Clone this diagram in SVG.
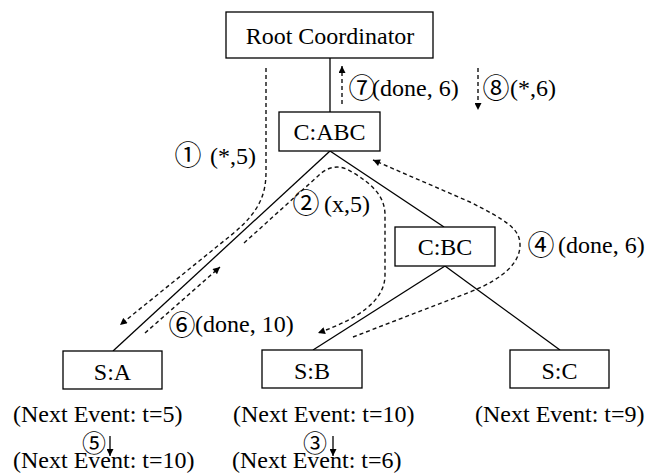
<svg xmlns="http://www.w3.org/2000/svg" width="670" height="475" viewBox="0 0 670 475">
  <style>
    .box { fill: #fff; stroke: #000; stroke-width: 1.3; }
    .edge { fill: none; stroke: #000; stroke-width: 1.3; }
    .msg { fill: none; stroke: #111; stroke-width: 1.4; stroke-dasharray: 4 3; }
    .step { fill: none; stroke: #000; stroke-width: 1.3; }
    text { font-family: "Liberation Serif", "Times New Roman", "Noto Sans CJK JP", serif; font-size: 24px; fill: #000; }
    .name { text-anchor: middle; }
    .num { font-family: "Noto Sans CJK JP", "DejaVu Sans", sans-serif; font-size: 27px; text-anchor: middle; }
    .num-s { font-family: "Noto Sans CJK JP", "DejaVu Sans", sans-serif; font-size: 24px; text-anchor: middle; }
  </style>
  <defs>
    <marker id="head" viewBox="0 0 10 10" refX="10" refY="5" markerWidth="9" markerHeight="7" markerUnits="userSpaceOnUse" orient="auto">
      <path d="M0,0 L10,5 L0,10 Z" fill="#000"/>
    </marker>
  </defs>

  <!-- tree edges and message flows -->
  <g id="connectors">
    <line class="edge" x1="330" y1="58" x2="330" y2="112"/>
    <line class="edge" x1="330" y1="151" x2="113" y2="351"/>
    <line class="edge" x1="330" y1="151" x2="444" y2="227"/>
    <line class="edge" x1="445" y1="266" x2="313" y2="350"/>
    <line class="edge" x1="445" y1="266" x2="560" y2="350"/>

    <!-- 1: (*,5) root down to S:A -->
    <path class="msg" d="M266,68 L266,172 C266,196 258,212 235,232 L120,325" marker-end="url(#head)"/>
    <!-- 2: (x,5) C:ABC to S:B -->
    <path class="msg" d="M244,243 L318,176 C328,166 340,164 352,172 C372,184 385,196 385,215 L385,275 C385,300 360,318 318,333" marker-end="url(#head)"/>
    <!-- 4: (done,6) S:B back to C:ABC -->
    <path class="msg" d="M353,337 L470,292 C505,278 520,262 520,245 C520,228 505,220 470,202 L373,160" marker-end="url(#head)"/>
    <!-- 6: (done,10) S:A back up -->
    <path class="msg" d="M145,333 L220,267" marker-end="url(#head)"/>
    <!-- 7: (done,6) up to root -->
    <path class="msg" d="M342,104 L342,66" marker-end="url(#head)"/>
    <!-- 8: (*,6) down from root -->
    <path class="msg" d="M478,68 L478,110" marker-end="url(#head)"/>
    <!-- 3 and 5: state transitions -->
    <path class="step" d="M333,436 L333,456" marker-end="url(#head)"/>
    <path class="step" d="M110,436 L110,456" marker-end="url(#head)"/>
  </g>

  <g id="root">
    <rect class="box" x="226" y="12" width="207" height="46"/>
    <text class="name" x="330" y="44">Root Coordinator</text>
  </g>
  <g id="c-abc">
    <rect class="box" x="279" y="112" width="101" height="39"/>
    <text class="name" x="329.5" y="140">C:ABC</text>
  </g>
  <g id="c-bc">
    <rect class="box" x="395" y="227" width="100" height="39"/>
    <text class="name" x="445" y="255">C:BC</text>
  </g>
  <g id="s-a">
    <rect class="box" x="63" y="351" width="99" height="38"/>
    <text class="name" x="112.5" y="380">S:A</text>
  </g>
  <g id="s-b">
    <rect class="box" x="262" y="350" width="100" height="38"/>
    <text class="name" x="312" y="379">S:B</text>
  </g>
  <g id="s-c">
    <rect class="box" x="510" y="350" width="99" height="38"/>
    <text class="name" x="559.5" y="379">S:C</text>
  </g>

  <!-- message labels: circled step number, then the message -->
  <g id="labels">
    <text class="num" x="188" y="165">①</text>
    <text x="210" y="164">(*,5)</text>
    <text class="num" x="306" y="213">②</text>
    <text x="324" y="212">(x,5)</text>
    <text class="num" x="541" y="255">④</text>
    <text x="558" y="253">(done, 6)</text>
    <text class="num" x="182" y="335">⑥</text>
    <text x="195" y="332">(done, 10)</text>
    <text class="num" x="362" y="98">⑦</text>
    <text x="372" y="96">(done, 6)</text>
    <text class="num" x="496" y="98">⑧</text>
    <text x="510" y="96">(*,6)</text>
  </g>

  <!-- next-event times -->
  <g id="times">
    <text x="13" y="422">(Next Event: t=5)</text>
    <text x="13" y="468">(Next Event: t=10)</text>
    <text x="233" y="422">(Next Event: t=10)</text>
    <text x="232" y="468">(Next Event: t=6)</text>
    <text x="475" y="422">(Next Event: t=9)</text>
    <text class="num-s" x="94" y="452">⑤</text>
    <text class="num-s" x="315" y="452">③</text>
  </g>
</svg>
